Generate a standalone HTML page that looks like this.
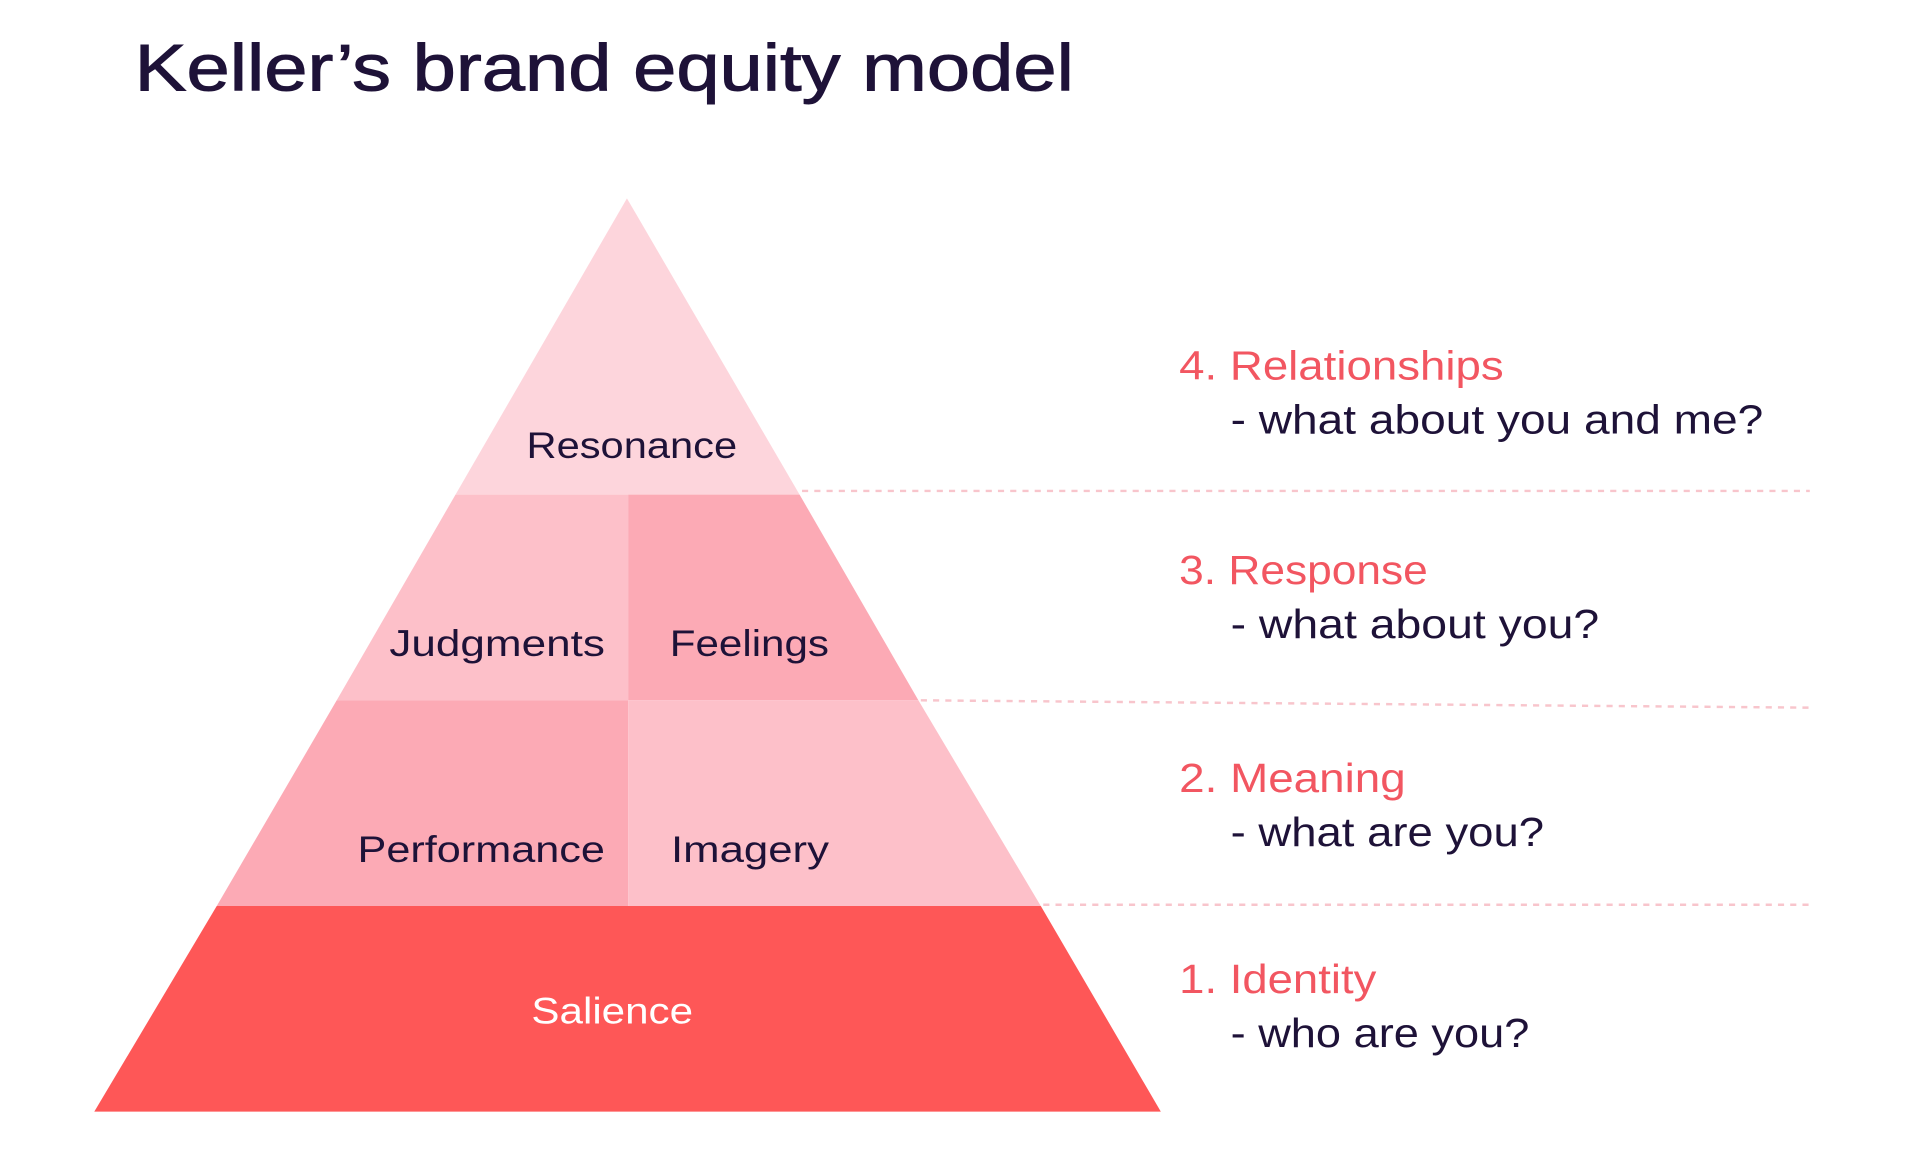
<!DOCTYPE html>
<html><head><meta charset="utf-8"><style>
html,body{margin:0;padding:0;background:#fff;width:1920px;height:1168px;overflow:hidden}
svg{display:block}
text{font-family:"Liberation Sans",sans-serif}
</style></head><body>
<svg width="1920" height="1168" viewBox="0 0 1568 954" preserveAspectRatio="none" xmlns="http://www.w3.org/2000/svg">
<rect width="1568" height="954" fill="#fff"/>
<text x="110" y="74" font-size="54" fill="#1e1238" stroke="#1e1238" stroke-width="0.8" textLength="767" lengthAdjust="spacingAndGlyphs">Keller’s brand equity model</text>
<polygon points="512,162 653,404 372,404" fill="#fdd5dc"/>
<polygon points="372,404 513,404 513,572 275,572" fill="#fdc0c9"/>
<polygon points="513,404 653,404 750,572 513,572" fill="#fcaab5"/>
<polygon points="275,572 513,572 513,740 177,740" fill="#fcaab5"/>
<polygon points="513,572 750,572 850,740 513,740" fill="#fdc0c9"/>
<polygon points="177,740 850,740 948,908 77,908" fill="#fe5757"/>
<g font-size="30" fill="#1e1238">
<text x="430" y="374" textLength="172" lengthAdjust="spacingAndGlyphs">Resonance</text>
<text x="318" y="536" textLength="176" lengthAdjust="spacingAndGlyphs">Judgments</text>
<text x="547" y="536" textLength="130" lengthAdjust="spacingAndGlyphs">Feelings</text>
<text x="292" y="704" textLength="202" lengthAdjust="spacingAndGlyphs">Performance</text>
<text x="548" y="704" textLength="129" lengthAdjust="spacingAndGlyphs">Imagery</text>
</g>
<text x="434" y="836" font-size="30" fill="#fff" textLength="132" lengthAdjust="spacingAndGlyphs">Salience</text>
<g stroke="#f8c5cc" stroke-width="2" stroke-dasharray="5,5">
<line x1="655" y1="401" x2="1478" y2="401"/>
<line x1="752" y1="572" x2="1478" y2="578"/>
<line x1="852" y1="739" x2="1478" y2="739"/>
</g>
<g font-size="33">
<text x="963" y="310" fill="#f25661" textLength="265" lengthAdjust="spacingAndGlyphs">4. Relationships</text>
<text x="1005" y="354" fill="#1e1238" textLength="435" lengthAdjust="spacingAndGlyphs">- what about you and me?</text>
<text x="963" y="477" fill="#f25661" textLength="203" lengthAdjust="spacingAndGlyphs">3. Response</text>
<text x="1005" y="521" fill="#1e1238" textLength="301" lengthAdjust="spacingAndGlyphs">- what about you?</text>
<text x="963" y="647" fill="#f25661" textLength="185" lengthAdjust="spacingAndGlyphs">2. Meaning</text>
<text x="1005" y="691" fill="#1e1238" textLength="256" lengthAdjust="spacingAndGlyphs">- what are you?</text>
<text x="963" y="811" fill="#f25661" textLength="161" lengthAdjust="spacingAndGlyphs">1. Identity</text>
<text x="1005" y="855" fill="#1e1238" textLength="244" lengthAdjust="spacingAndGlyphs">- who are you?</text>
</g>
</svg>
</body></html>
